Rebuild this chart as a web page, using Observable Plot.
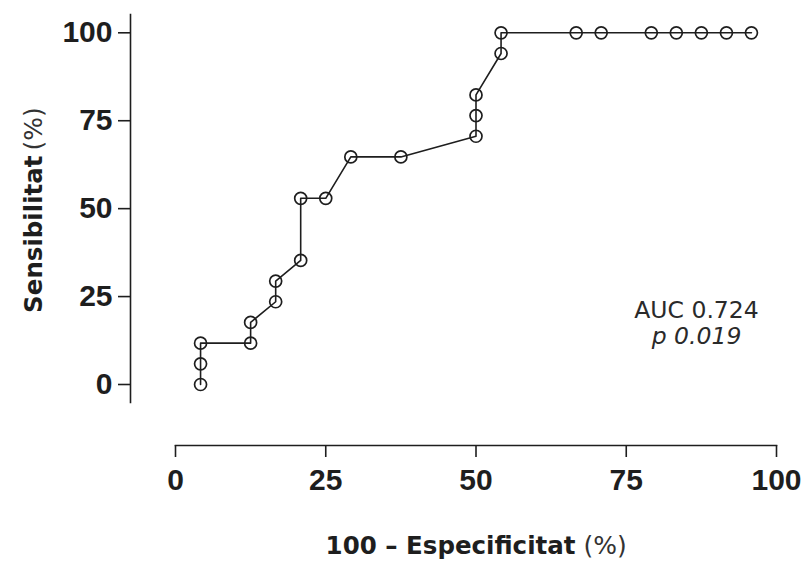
<!DOCTYPE html>
<html>
<head>
<meta charset="utf-8">
<script src="https://cdn.jsdelivr.net/npm/d3@7"></script>
<script src="https://cdn.jsdelivr.net/npm/@observablehq/plot@0.6"></script>
<style>
  html, body { margin: 0; padding: 0; background: #fff; }
  #chart svg { display: block; }
</style>
</head>
<body>
<div id="chart"></div>
<script>
// ROC curve: 100 – especificitat (x) vs sensibilitat (y), both in %
const falsePositiveRate = [
  4.17, 4.17, 4.17, 12.5, 12.5, 16.67, 16.67, 20.83, 20.83, 25,
  29.17, 37.5, 50, 50, 50, 54.17, 54.17, 66.67, 70.83, 79.17,
  83.33, 87.5, 91.67, 95.83
];
const sensitivity = [
  0, 5.88, 11.76, 11.76, 17.65, 23.53, 29.41, 35.29, 52.94, 52.94,
  64.71, 64.71, 70.59, 76.47, 82.35, 94.12, 100, 100, 100, 100,
  100, 100, 100, 100
];
const tickValues = [0, 25, 50, 75, 100];
const xTitle = "100 – Especificitat";
const yTitle = "Sensibilitat";
const unitLabel = "(%)";
const aucLabel = "AUC 0.724";
const pLabel = "p 0.019";

const points = falsePositiveRate.map((x, i) => ({x, y: sensitivity[i]}));

const ink = "#1e1e1e";
const tickFont = "Liberation Sans, Arial, Helvetica, sans-serif";
const titleFont = "DejaVu Sans, Verdana, sans-serif";
const noteFont = "DejaVu Sans, sans-serif";

const chart = Plot.plot({
  width: 805,
  height: 566,
  marginLeft: 130,
  marginRight: 29,
  marginTop: 14,
  marginBottom: 121,
  style: {
    fontFamily: tickFont,
    fontSize: "30px",
    fontWeight: "bold",
    color: ink,
    background: "#fff"
  },
  x: {domain: [0, 100], insetLeft: 45, insetRight: 0},
  y: {domain: [0, 100], insetTop: 18.3, insetBottom: 61},
  marks: [
    // axis lines: y spans slightly past 0–100, x spans exactly 0–100
    Plot.frame({anchor: "left", insetBottom: 43, stroke: ink, strokeWidth: 1.6}),
    Plot.frame({anchor: "bottom", insetLeft: 45, stroke: ink, strokeWidth: 1.6}),
    Plot.axisY({
      ticks: tickValues, tickSize: 12, tickPadding: 6, label: null,
      strokeWidth: 1.6, fontFamily: tickFont, fontSize: 30, fontWeight: "bold",
      letterSpacing: "-0.5px"
    }),
    Plot.axisX({
      ticks: tickValues, tickSize: 12, tickPadding: 11, label: null,
      strokeWidth: 1.6, fontFamily: tickFont, fontSize: 30, fontWeight: "bold",
      letterSpacing: "-0.5px"
    }),
    // curve and threshold points
    Plot.line(points, {x: "x", y: "y", stroke: ink, strokeWidth: 1.6}),
    Plot.dot(points, {x: "x", y: "y", r: 6, fill: "none", stroke: ink, strokeWidth: 1.7}),
    // axis titles
    Plot.text([xTitle], {
      frameAnchor: "bottom", textAnchor: "end", lineAnchor: "bottom",
      dx: 122, dy: 108, fontFamily: titleFont, fontSize: 24.5, fontWeight: "bold", fill: ink
    }),
    Plot.text([unitLabel], {
      frameAnchor: "bottom", textAnchor: "start", lineAnchor: "bottom",
      dx: 130, dy: 108, fontFamily: titleFont, fontSize: 25, fontWeight: "normal", fill: "#333"
    }),
    Plot.text([yTitle], {
      frameAnchor: "left", rotate: -90, textAnchor: "end", lineAnchor: "bottom",
      dx: -89, dy: -74.5, fontFamily: titleFont, fontSize: 24.5, fontWeight: "bold", fill: ink
    }),
    Plot.text([unitLabel], {
      frameAnchor: "left", rotate: -90, textAnchor: "start", lineAnchor: "bottom",
      dx: -89, dy: -79.5, fontFamily: titleFont, fontSize: 25, fontWeight: "normal", fill: "#333"
    }),
    // summary statistics
    Plot.text([aucLabel], {
      frameAnchor: "right", textAnchor: "middle", lineAnchor: "bottom",
      dx: -80, dy: 88, fontFamily: noteFont, fontSize: 23.5, fontWeight: "normal", fill: "#2a2a2a"
    }),
    Plot.text([pLabel], {
      frameAnchor: "right", textAnchor: "middle", lineAnchor: "bottom",
      dx: -80, dy: 114, fontFamily: noteFont, fontSize: 23.5, fontWeight: "normal",
      fontStyle: "italic", fill: "#2a2a2a"
    })
  ]
});

document.getElementById("chart").appendChild(chart);
</script>
</body>
</html>
